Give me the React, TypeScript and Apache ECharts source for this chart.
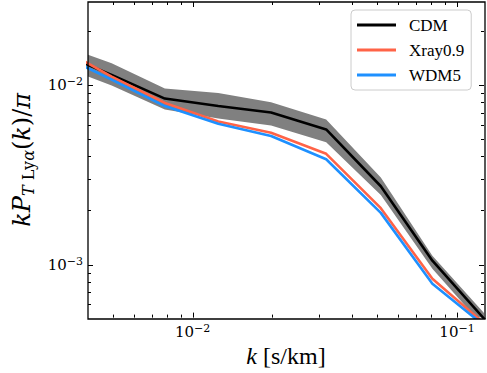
import React, { useEffect, useRef } from "react";
import * as echarts from "echarts";

// wavenumbers k [s/km]
const kValues = [0.00312, 0.00494, 0.00785, 0.0125, 0.0198, 0.032, 0.0515, 0.0807, 0.128];
// k P(k) / pi
const cdmValues = [0.0151, 0.0114, 0.00841, 0.00764, 0.00704, 0.00566, 0.00273, 0.00105, 0.00049];
const xrayValues = [0.01627, 0.01115, 0.00795, 0.00627, 0.00542, 0.00414, 0.00206, 0.000833, 0.000463];
const wdmValues = [0.01488, 0.01073, 0.00764, 0.00608, 0.0052, 0.00386, 0.00194, 0.000781, 0.000451];
const cdmHigh = [0.01679, 0.01325, 0.00956, 0.00903, 0.00803, 0.00643, 0.00305, 0.00112, 0.000526];
const cdmLow = [0.01288, 0.00994, 0.00731, 0.00652, 0.00596, 0.0048, 0.00244, 0.000946, 0.00044];

const seriesNames = ["CDM", "Xray0.9", "WDM5"];

const xMin = 0.00402;
const xMax = 0.1265;
const yMin = 0.000506;
const yMax = 0.02904;

const xMajorTicks = [0.01, 0.1];
const xMinorTicks = [0.005, 0.006, 0.007, 0.008, 0.009, 0.02, 0.03, 0.04, 0.05, 0.06, 0.07, 0.08, 0.09];
const yMajorTicks = [0.001, 0.01];
const yMinorTicks = [0.0006, 0.0007, 0.0008, 0.0009, 0.002, 0.003, 0.004, 0.005, 0.006, 0.007, 0.008, 0.009, 0.02];

const SERIF = "DejaVu Serif";
const LEGEND_FONT = "serif";
const XNAME_FONT = "Liberation Serif";

const GRID = { left: 88, top: 2, right: 2, bottom: 54 };

function powLabel(value: number): string {
  const lg = Math.log10(value);
  const e = Math.round(lg);
  if (Math.abs(lg - e) > 1e-6) return "";
  return `{b|10}{s|\u2212${Math.abs(e)}}`;
}

const labelRich = {
  b: { fontFamily: SERIF, fontSize: 15, lineHeight: 18, color: "#000" },
  s: { fontFamily: SERIF, fontSize: 11, lineHeight: 11, verticalAlign: "top", color: "#000" },
};

function tickRenderer(isX: boolean) {
  return (params: any, api: any) => {
    const cs = params.coordSys;
    const major = api.value(2) === 1;
    const len = major ? 5 : 3;
    const p = api.coord([api.value(0), api.value(1)]);
    const style = { stroke: "#000", lineWidth: 1 };
    if (isX) {
      const x = Math.round(p[0]) + 0.5;
      const yb = cs.y + cs.height;
      return {
        type: "group",
        children: [
          { type: "line", shape: { x1: x, y1: yb, x2: x, y2: yb - len }, style },
          { type: "line", shape: { x1: x, y1: cs.y, x2: x, y2: cs.y + len }, style },
        ],
      };
    }
    const y = Math.round(p[1]) + 0.5;
    const xr = cs.x + cs.width;
    return {
      type: "group",
      children: [
        { type: "line", shape: { x1: cs.x, y1: y, x2: cs.x + len, y2: y }, style },
        { type: "line", shape: { x1: xr, y1: y, x2: xr - len, y2: y }, style },
      ],
    };
  };
}

export default function App() {
  const ref = useRef<HTMLDivElement>(null);

  useEffect(() => {
    if (!ref.current) return;
    const chart = echarts.init(ref.current, null, { renderer: "svg" });

    const xTickData = [
      ...xMajorTicks.map((v) => [v, yMin, 1]),
      ...xMinorTicks.map((v) => [v, yMin, 0]),
    ];
    const yTickData = [
      ...yMajorTicks.map((v) => [xMin, v, 1]),
      ...yMinorTicks.map((v) => [xMin, v, 0]),
    ];

    const option: any = {
      animation: false,
      backgroundColor: "#ffffff",
      textStyle: { fontFamily: SERIF },
      grid: { ...GRID, containLabel: false },
      legend: {
        data: seriesNames,
        orient: "vertical",
        left: 351,
        top: 10,
        icon: "rect",
        itemWidth: 39,
        itemHeight: 3,
        itemGap: 5,
        padding: [5, 7, 5, 6],
        backgroundColor: "rgba(255,255,255,0.8)",
        borderColor: "#cccccc",
        borderWidth: 1,
        borderRadius: 4,
        selectedMode: false,
        textStyle: { fontFamily: LEGEND_FONT, fontSize: 17, color: "#000", lineHeight: 20, padding: [0, 0, 0, 8] },
        z: 20,
      },
      xAxis: {
        type: "log",
        logBase: 10,
        min: xMin,
        max: xMax,
        axisLine: { show: false },
        axisTick: { show: false },
        splitLine: { show: false },
        axisLabel: { formatter: powLabel, margin: 5, rich: labelRich, color: "#000", fontFamily: SERIF },
        name: "{i|k} {n|[s/km]}",
        nameLocation: "middle",
        nameGap: 23,
        nameTextStyle: {
          fontFamily: XNAME_FONT,
          fontSize: 24,
          color: "#000",
          rich: {
            i: { fontFamily: XNAME_FONT, fontSize: 24, fontStyle: "italic", color: "#000" },
            n: { fontFamily: XNAME_FONT, fontSize: 24, color: "#000" },
          },
        },
      },
      yAxis: {
        type: "log",
        logBase: 10,
        min: yMin,
        max: yMax,
        axisLine: { show: false },
        axisTick: { show: false },
        splitLine: { show: false },
        axisLabel: { formatter: powLabel, margin: 5, rich: labelRich, color: "#000", fontFamily: SERIF },
        name: "{i|kP}{si|T}{s| Ly}{si|\u03b1}{n|(}{i|k}{n|)/}{i|\u03c0}",
        nameLocation: "middle",
        nameRotate: 90,
        nameGap: 52,
        nameTextStyle: {
          fontFamily: SERIF,
          fontSize: 24,
          color: "#000",
          rich: {
            i: { fontFamily: SERIF, fontSize: 24, fontStyle: "italic", lineHeight: 28, color: "#000" },
            n: { fontFamily: SERIF, fontSize: 24, lineHeight: 28, color: "#000" },
            si: { fontFamily: SERIF, fontSize: 16, fontStyle: "italic", lineHeight: 20, verticalAlign: "bottom", color: "#000" },
            s: { fontFamily: SERIF, fontSize: 16, lineHeight: 20, verticalAlign: "bottom", color: "#000" },
          },
        },
      },
      series: [
        {
          type: "custom",
          name: "CDM band",
          coordinateSystem: "cartesian2d",
          clip: true,
          silent: true,
          z: 1,
          data: kValues.map((k, i) => [k, cdmLow[i], cdmHigh[i]]),
          encode: { x: 0, y: [1, 2] },
          renderItem: (params: any, api: any) => {
            if (params.dataIndex !== 0) return null;
            const upper = kValues.map((k, i) => api.coord([k, cdmHigh[i]]));
            const lower = kValues.map((k, i) => api.coord([k, cdmLow[i]])).reverse();
            return {
              type: "polygon",
              shape: { points: upper.concat(lower) },
              style: { fill: "#808080", stroke: "none" },
            };
          },
        },
        {
          type: "line",
          name: "CDM",
          color: "#000000",
          symbol: "none",
          z: 3,
          clip: true,
          lineStyle: { width: 2.6, color: "#000000" },
          data: kValues.map((k, i) => [k, cdmValues[i]]),
        },
        {
          type: "line",
          name: "Xray0.9",
          color: "#ff6347",
          symbol: "none",
          z: 3,
          clip: true,
          lineStyle: { width: 2.6, color: "#ff6347" },
          data: kValues.map((k, i) => [k, xrayValues[i]]),
        },
        {
          type: "line",
          name: "WDM5",
          color: "#1e90ff",
          symbol: "none",
          z: 3,
          clip: true,
          lineStyle: { width: 2.6, color: "#1e90ff" },
          data: kValues.map((k, i) => [k, wdmValues[i]]),
        },
        {
          type: "custom",
          name: "xticks",
          coordinateSystem: "cartesian2d",
          clip: false,
          silent: true,
          z: 10,
          data: xTickData,
          encode: { x: 0, y: 1 },
          renderItem: tickRenderer(true),
        },
        {
          type: "custom",
          name: "yticks",
          coordinateSystem: "cartesian2d",
          clip: false,
          silent: true,
          z: 10,
          data: yTickData,
          encode: { x: 0, y: 1 },
          renderItem: tickRenderer(false),
        },
      ],
      graphic: [
        {
          type: "rect",
          z: 100,
          silent: true,
          shape: { x: GRID.left, y: GRID.top, width: 487 - GRID.left - GRID.right, height: 373 - GRID.top - GRID.bottom },
          style: { fill: "none", stroke: "#000", lineWidth: 1.3 },
        },
      ],
    };

    chart.setOption(option);
    return () => chart.dispose();
  }, []);

  return (
    <div
      ref={ref}
      style={{ position: "fixed", left: 0, top: 0, width: 487, height: 373, background: "#fff" }}
    />
  );
}
